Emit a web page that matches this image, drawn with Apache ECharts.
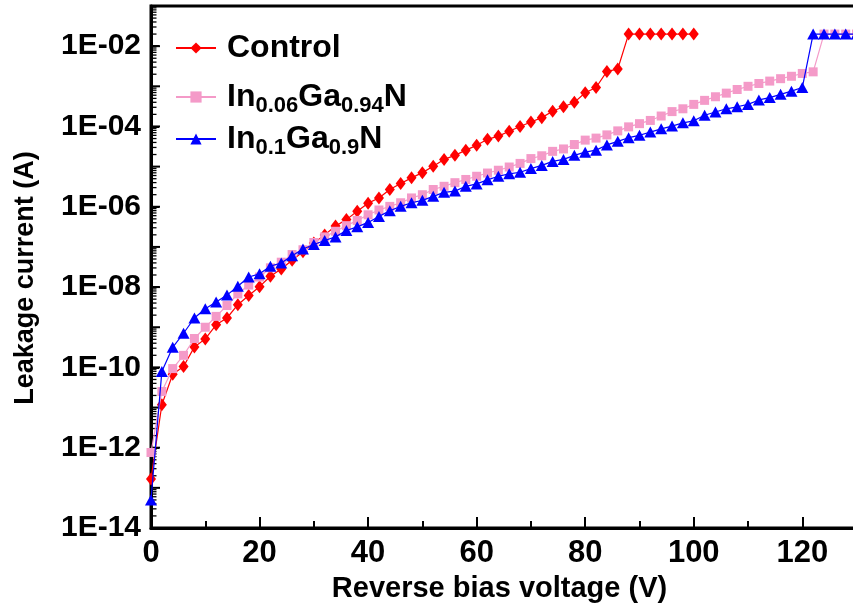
<!DOCTYPE html>
<html>
<head>
<meta charset="utf-8">
<script src="https://cdn.jsdelivr.net/npm/echarts@6/dist/echarts.min.js"></script>
<style>
  html, body { margin: 0; padding: 0; background: #fff; }
  #chart { width: 853px; height: 604px; }
</style>
</head>
<body>
<div id="chart"></div>
<script>
// Reverse-bias leakage current of three diode structures.
// Currents are stored as log10(I / A) readings, one point every 2 V.

const seriesNames = ['Control', 'In0.06Ga0.94N', 'In0.1Ga0.9N'];

const controlVoltage = [0, 2, 4, 6, 8, 10, 12, 14, 16, 18, 20, 22, 24, 26, 28, 30, 32, 34, 36, 38,
  40, 42, 44, 46, 48, 50, 52, 54, 56, 58, 60, 62, 64, 66, 68, 70, 72, 74, 76, 78,
  80, 82, 84, 86, 88, 90, 92, 94, 96, 98, 100];
const controlLogI = [-12.78, -10.93, -10.17, -9.98, -9.49, -9.29, -8.94, -8.77, -8.44, -8.21,
  -7.99, -7.73, -7.55, -7.33, -7.12, -6.90, -6.70, -6.48, -6.32, -6.11,
  -5.91, -5.78, -5.57, -5.42, -5.28, -5.15, -4.99, -4.82, -4.72, -4.59,
  -4.47, -4.32, -4.24, -4.12, -4.00, -3.89, -3.78, -3.62, -3.51, -3.40,
  -3.16, -3.03, -2.63, -2.57, -1.70, -1.70, -1.70, -1.70, -1.70, -1.70, -1.70];

const ingan006Voltage = [0, 2, 4, 6, 8, 10, 12, 14, 16, 18, 20, 22, 24, 26, 28, 30, 32, 34, 36, 38,
  40, 42, 44, 46, 48, 50, 52, 54, 56, 58, 60, 62, 64, 66, 68, 70, 72, 74, 76, 78,
  80, 82, 84, 86, 88, 90, 92, 94, 96, 98, 100, 102, 104, 106, 108, 110, 112, 114, 116, 118,
  120, 122, 124, 126, 128, 130];
const ingan006LogI = [-12.12, -10.60, -10.03, -9.70, -9.28, -9.00, -8.73, -8.46, -8.17, -7.95,
  -7.75, -7.52, -7.38, -7.19, -7.07, -6.89, -6.75, -6.61, -6.47, -6.34,
  -6.20, -6.08, -5.99, -5.90, -5.78, -5.70, -5.57, -5.49, -5.40, -5.32,
  -5.24, -5.16, -5.09, -5.01, -4.92, -4.80, -4.73, -4.62, -4.56, -4.45,
  -4.34, -4.29, -4.21, -4.11, -4.01, -3.93, -3.85, -3.74, -3.63, -3.56,
  -3.45, -3.35, -3.26, -3.17, -3.08, -3.00, -2.93, -2.87, -2.81, -2.75,
  -2.68, -2.64, -1.70, -1.70, -1.70, -1.70];

const ingan01Voltage = [0, 2, 4, 6, 8, 10, 12, 14, 16, 18, 20, 22, 24, 26, 28, 30, 32, 34, 36, 38,
  40, 42, 44, 46, 48, 50, 52, 54, 56, 58, 60, 62, 64, 66, 68, 70, 72, 74, 76, 78,
  80, 82, 84, 86, 88, 90, 92, 94, 96, 98, 100, 102, 104, 106, 108, 110, 112, 114, 116, 118,
  120, 122, 124, 126, 128, 130];
const ingan01LogI = [-13.30, -10.10, -9.50, -9.15, -8.77, -8.54, -8.37, -8.20, -7.98, -7.75,
  -7.67, -7.48, -7.40, -7.22, -7.05, -6.94, -6.84, -6.75, -6.59, -6.50,
  -6.39, -6.24, -6.10, -5.99, -5.90, -5.84, -5.74, -5.64, -5.61, -5.49,
  -5.43, -5.33, -5.24, -5.18, -5.14, -5.05, -4.97, -4.87, -4.82, -4.72,
  -4.64, -4.59, -4.46, -4.37, -4.28, -4.22, -4.14, -4.06, -3.99, -3.91,
  -3.86, -3.72, -3.64, -3.56, -3.51, -3.45, -3.34, -3.28, -3.20, -3.12,
  -3.03, -1.70, -1.70, -1.70, -1.70, -1.70];

const FONT = '"Liberation Sans", Arial, Helvetica, sans-serif';
const Y_MIN = 1e-14, Y_MAX = 1e-1;

function toPoints(volts, logI) {
  return volts.map((v, i) => [v, Math.pow(10, logI[i])]);
}

// Extra ticks on the current axis: every decade (long) and 2..9 x 10^n (short).
const yExtraTicks = [];
for (let n = -14; n < -1; n++) {
  yExtraTicks.push([0, Math.pow(10, n), 8]);
  for (let k = 2; k <= 9; k++) {
    const t = k * Math.pow(10, n);
    if (t < Y_MAX) yExtraTicks.push([0, t, 4.5]);
  }
}

const legendText = {
  'Control': '{n|Control}',
  'In0.06Ga0.94N': '{n|In}{s|0.06}{n|Ga}{s|0.94}{n|N}',
  'In0.1Ga0.9N': '{n|In}{s|0.1}{n|Ga}{s|0.9}{n|N}'
};
const legendRich = {
  n: { fontFamily: FONT, fontSize: 32, fontWeight: 'bold', color: '#000', lineHeight: 40 },
  s: { fontFamily: FONT, fontSize: 22, fontWeight: 'bold', color: '#000', lineHeight: 18, verticalAlign: 'bottom' }
};
function legendFor(name, top) {
  return {
    data: [name], left: 175, top: top, orient: 'vertical', padding: 0,
    itemWidth: 40, itemHeight: 14,
    formatter: (nm) => legendText[nm],
    textStyle: { rich: legendRich, padding: [0, 0, 0, 6] }
  };
}

function yLabel(value) {
  const e = Math.round(Math.log10(value));
  if (e % 2 !== 0) return '';
  const a = Math.abs(e);
  return '1E' + (e < 0 ? '-' : '+') + (a < 10 ? '0' + a : String(a));
}

const chart = echarts.init(document.getElementById('chart'), null, { renderer: 'canvas' });

chart.setOption({
  animation: false,
  backgroundColor: '#fff',
  textStyle: { fontFamily: FONT },
  grid: {
    left: 151, top: 6, width: 711, height: 522,
    outerBoundsMode: 'none', containLabel: false,
    show: true, borderColor: '#000', borderWidth: 3, backgroundColor: 'transparent'
  },
  legend: [
    legendFor(seriesNames[0], 32),
    legendFor(seriesNames[1], 81),
    legendFor(seriesNames[2], 123)
  ],
  xAxis: {
    type: 'value', min: 0, max: 131, interval: 20,
    axisLine: { lineStyle: { color: '#000', width: 3 } },
    axisTick: { inside: true, length: 11, lineStyle: { color: '#000', width: 2 } },
    minorTick: { show: true, splitNumber: 2, length: 7, lineStyle: { color: '#000', width: 2 } },
    splitLine: { show: false },
    axisLabel: {
      fontFamily: FONT, fontSize: 31, fontWeight: 'bold', color: '#000', margin: 10,
      showMaxLabel: false,
      formatter: (v) => (v % 20 === 0 && v <= 120 ? String(v) : '')
    },
    name: 'Reverse bias voltage (V)', nameLocation: 'middle', nameGap: 46,
    nameTextStyle: { fontFamily: FONT, fontSize: 29, fontWeight: 'bold', color: '#000', padding: [0, 14, 0, 0] }
  },
  yAxis: {
    // base 100 puts the main ticks and labels on every second decade
    type: 'log', logBase: 100, min: Y_MIN, max: Y_MAX, splitNumber: 7,
    axisLine: { lineStyle: { color: '#000', width: 3 } },
    axisTick: { inside: true, length: 8, lineStyle: { color: '#000', width: 2 } },
    splitLine: { show: false },
    axisLabel: {
      fontFamily: FONT, fontSize: 30, fontWeight: 'bold', color: '#000', margin: 10,
      formatter: yLabel
    },
    name: 'Leakage current (A)', nameLocation: 'middle', nameGap: 112, nameRotate: 90,
    nameTextStyle: { fontFamily: FONT, fontSize: 27, fontWeight: 'bold', color: '#000', padding: [0, 22, 0, 0] }
  },
  series: [
    {
      type: 'custom', name: 'yExtraTicks', silent: true, z: 1, clip: false,
      data: yExtraTicks,
      encode: { x: 0, y: 1 },
      renderItem: (params, api) => {
        const p = api.coord([0, api.value(1)]);
        const len = api.value(2);
        return {
          type: 'line',
          shape: { x1: p[0] + 1, y1: p[1], x2: p[0] + 1 + len, y2: p[1] },
          style: { stroke: '#000', lineWidth: len > 6 ? 2 : 1.3 }
        };
      }
    },
    {
      name: seriesNames[0], type: 'line', clip: false, z: 3,
      data: toPoints(controlVoltage, controlLogI),
      symbol: 'diamond', symbolSize: [10, 13],
      itemStyle: { color: '#ff0000' },
      lineStyle: { color: '#ff0000', width: 1.2 }
    },
    {
      name: seriesNames[1], type: 'line', clip: false, z: 4,
      data: toPoints(ingan006Voltage, ingan006LogI),
      symbol: 'rect', symbolSize: 9,
      itemStyle: { color: '#f49ac8' },
      lineStyle: { color: '#f49ac8', width: 1.2 }
    },
    {
      name: seriesNames[2], type: 'line', clip: false, z: 5,
      data: toPoints(ingan01Voltage, ingan01LogI),
      symbol: 'triangle', symbolSize: [12, 11],
      itemStyle: { color: '#0000ff' },
      lineStyle: { color: '#0000ff', width: 1.2 }
    }
  ]
});
</script>
</body>
</html>
